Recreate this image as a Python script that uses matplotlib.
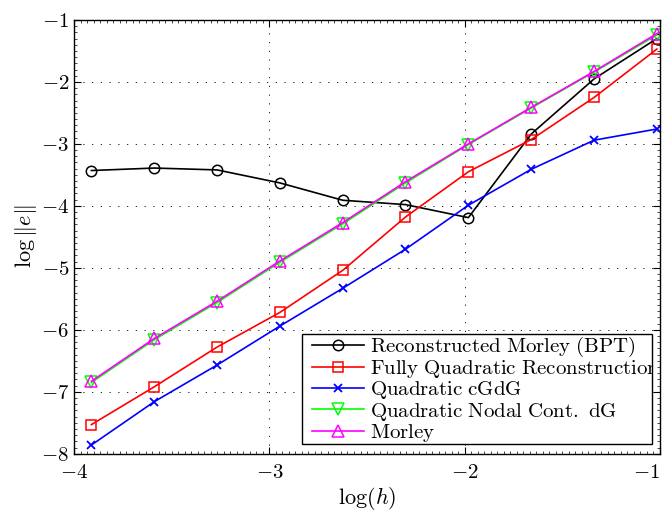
import matplotlib
matplotlib.use('Agg')
import matplotlib.pyplot as plt
from matplotlib.patches import Rectangle
from matplotlib.ticker import MultipleLocator

plt.rcParams['mathtext.fontset'] = 'cm'
plt.rcParams['font.family'] = 'serif'
plt.rcParams['font.serif'] = ['DejaVu Serif']

# data
log_h = [-3.911, -3.589, -3.268, -2.946, -2.624, -2.303, -1.981, -1.659, -1.337, -1.016]
err_bpt = [-3.43, -3.39, -3.42, -3.63, -3.91, -3.98, -4.19, -2.84, -1.95, -1.30]
err_fqr = [-7.53, -6.92, -6.28, -5.72, -5.04, -4.18, -3.45, -2.93, -2.25, -1.47]
err_cgdg = [-7.86, -7.16, -6.57, -5.94, -5.33, -4.70, -3.99, -3.41, -2.94, -2.76]
err_nodal = [-6.85, -6.16, -5.56, -4.91, -4.29, -3.63, -3.01, -2.42, -1.84, -1.24]
err_morley = [-6.83, -6.14, -5.54, -4.89, -4.27, -3.61, -3.00, -2.41, -1.83, -1.22]

xticks = [-4, -3, -2, -1]
yticks = [-8, -7, -6, -5, -4, -3, -2, -1]

labels = [r'$\mathrm{Reconstructed\ Morley\ (BPT)}$',
          r'$\mathrm{Fully\ Quadratic\ Reconstruction}$',
          r'$\mathrm{Quadratic\ cGdG}$',
          r'$\mathrm{Quadratic\ Nodal\ Cont.\ dG}$',
          r'$\mathrm{Morley}$']

W, H = 667, 513
fig = plt.figure(figsize=(W / 100, H / 100), dpi=100)
ax = fig.add_axes([0.111, 0.1156, 0.8785, 0.8455])

lw = 1.2
ax.plot(log_h, err_bpt, '-o', color='k', lw=lw, ms=7.5, mfc='none', mew=1.1, label=labels[0])
ax.plot(log_h, err_fqr, '-s', color='r', lw=lw, ms=7, mfc='none', mew=1.1, label=labels[1])
ax.plot(log_h, err_cgdg, '-x', color='b', lw=lw, ms=6, mew=1.3, label=labels[2])
ax.plot(log_h, err_nodal, '-v', color='#00ff00', lw=lw, ms=8, mfc='none', mew=1.1, label=labels[3])
ax.plot(log_h, err_morley, '-^', color='#ff00ff', lw=lw, ms=8, mfc='none', mew=1.1, label=labels[4])

ax.set_xlim(-4, -1)
ax.set_ylim(-8, -1)
ax.set_xticks(xticks, labels=[r'$%d$' % v for v in xticks])
ax.set_yticks(yticks, labels=[r'$%d$' % v for v in yticks])
ax.xaxis.set_minor_locator(MultipleLocator(1 / 30))
ax.yaxis.set_minor_locator(MultipleLocator(0.1))
ax.tick_params(which='both', direction='in', top=True, right=True, labelsize=15)
ax.tick_params(which='major', length=5, width=0.8)
ax.tick_params(which='minor', length=2.5, width=0.5)
ax.tick_params(axis='x', pad=7)
# keep the last x tick label inside the picture
ax.get_xticklabels()[-1].set_horizontalalignment('right')

ax.grid(True, which='major', color='k', linestyle=(0, (1.5, 9)), lw=0.6)

for s in ax.spines.values():
    s.set_linewidth(1.0)

ax.set_xlabel(r'$\log(h)$', fontsize=16, labelpad=2)
ax.set_ylabel(r'$\log\|e\|$', fontsize=16, labelpad=1)

# legend box (long label gets cut by the frame, as in the original)
box = Rectangle((302 / W, 1 - 444 / H), 350 / W, 110 / H, transform=fig.transFigure,
                facecolor='white', edgecolor='k', lw=1.0, zorder=4, clip_on=False)
ax.add_patch(box)
leg = ax.legend(loc='upper left', bbox_to_anchor=(312 / W, 1 - 335 / H), bbox_transform=fig.transFigure,
                fontsize=15, handlelength=2.5, handletextpad=0.3, labelspacing=-0.04,
                borderpad=0, borderaxespad=0, frameon=False)
leg.set_zorder(5)
for t in leg.get_texts():
    t.set_clip_path(box)

fig.savefig('out.png', dpi=100)
